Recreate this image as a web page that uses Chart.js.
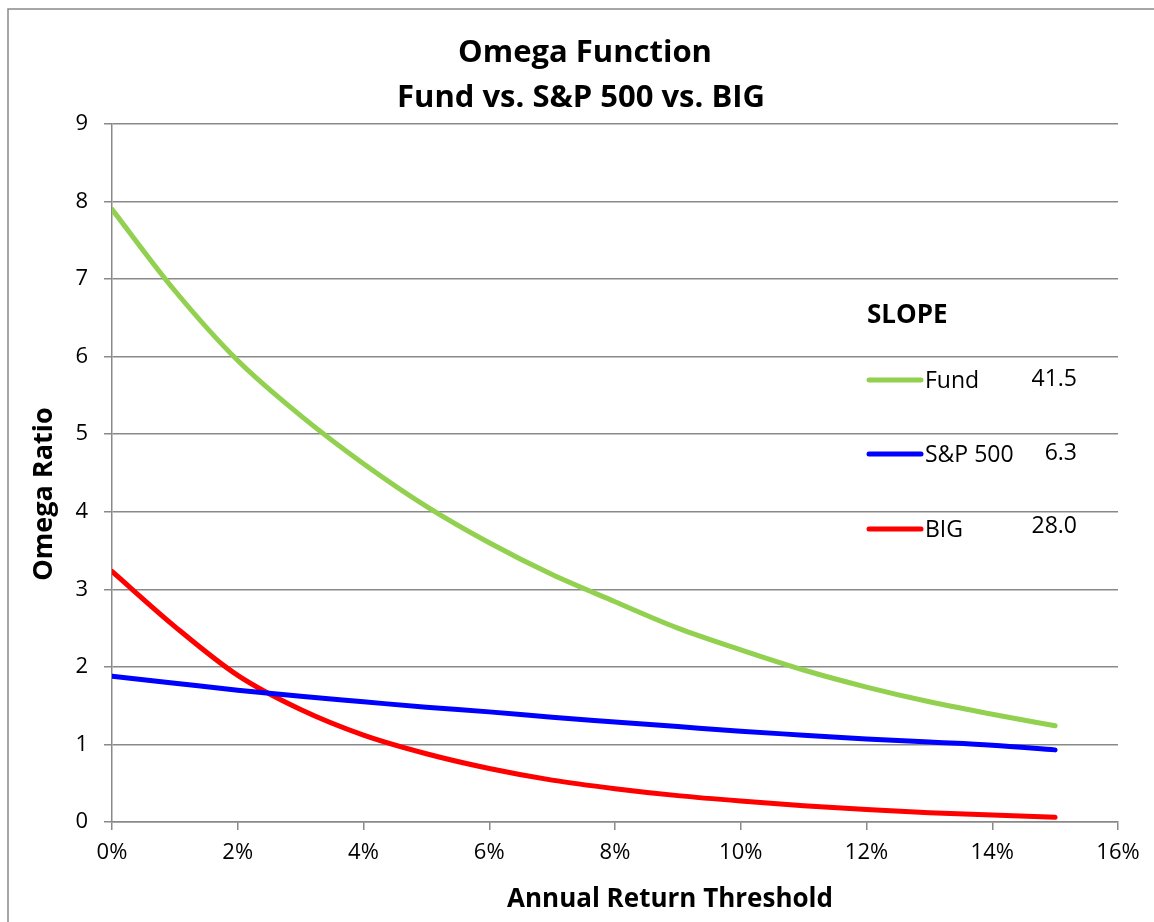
<!DOCTYPE html>
<html>
<head>
<meta charset="utf-8">
<title>Omega Function</title>
<script src="https://cdn.jsdelivr.net/npm/chart.js@4.4.1/dist/chart.umd.min.js"></script>
<style>
  html, body { margin: 0; padding: 0; background: #fff; }
  #wrap { width: 1154px; height: 922px; }
</style>
</head>
<body>
<div id="wrap"><canvas id="omega" width="1154" height="922"></canvas></div>
<script>
// annual return threshold, in percent
const thresholds = [0, 1, 2, 3, 4, 5, 6, 7, 8, 9, 10, 11, 12, 13, 14, 15];
const fundOmega = [7.90, 6.85, 5.95, 5.24, 4.62, 4.07, 3.60, 3.19, 2.84, 2.50, 2.22, 1.96, 1.74, 1.55, 1.39, 1.24];
const spOmega   = [1.88, 1.79, 1.70, 1.62, 1.55, 1.48, 1.42, 1.35, 1.29, 1.23, 1.17, 1.12, 1.07, 1.03, 0.99, 0.93];
const bigOmega  = [3.23, 2.52, 1.89, 1.45, 1.12, 0.88, 0.69, 0.54, 0.43, 0.34, 0.27, 0.21, 0.16, 0.12, 0.09, 0.06];

const seriesNames = ['Fund', 'S&P 500', 'BIG'];
const seriesColors = ['#92D050', '#0000FF', '#FF0000'];
const slopeValues = ['41.5', '6.3', '28.0'];

const xTickValues = [0, 2, 4, 6, 8, 10, 12, 14, 16];
const yTickValues = [0, 1, 2, 3, 4, 5, 6, 7, 8, 9];

const FONT = '"Open Sans", Lato, sans-serif';
const GRID = '#898989';

function toPoints(values) {
    return thresholds.map((t, i) => ({ x: t, y: values[i] }));
}

const datasets = [fundOmega, spOmega, bigOmega].map((vals, i) => ({
    label: seriesNames[i],
    data: toPoints(vals),
    borderColor: seriesColors[i],
    backgroundColor: seriesColors[i],
    borderWidth: 5,
    borderCapStyle: 'round',
    pointRadius: 0,
    cubicInterpolationMode: 'monotone',
    fill: false
}));

// frame, titles and the slope box drawn on top of the chart
const decorations = {
    id: 'decorations',
    beforeDraw(chart) {
        const ctx = chart.ctx;
        ctx.save();
        ctx.fillStyle = '#fff';
        ctx.fillRect(0, 0, chart.width, chart.height);
        ctx.strokeStyle = GRID;
        ctx.lineWidth = 1.5;
        ctx.beginPath();
        ctx.moveTo(8, chart.height + 2);
        ctx.lineTo(8, 9);
        ctx.lineTo(chart.width + 2, 9);
        ctx.stroke();
        ctx.restore();
    },
    afterDraw(chart) {
        const ctx = chart.ctx;
        ctx.save();
        ctx.fillStyle = '#000';
        ctx.textBaseline = 'middle';

        // chart title
        ctx.textAlign = 'center';
        ctx.font = 'bold 31px ' + FONT;
        ctx.fillText('Omega Function', 585, 53);
        ctx.fillText('Fund vs. S&P 500 vs. BIG', 581, 98);

        // axis titles
        ctx.font = 'bold 26px ' + FONT;
        ctx.fillText('Annual Return Threshold', 670, 900);
        ctx.save();
        ctx.translate(44, 494);
        ctx.rotate(-Math.PI / 2);
        ctx.font = 'bold 27px ' + FONT;
        ctx.fillText('Omega Ratio', 0, 0);
        ctx.restore();

        // slope legend
        ctx.textAlign = 'left';
        ctx.font = 'bold 26px ' + FONT;
        ctx.fillText('SLOPE', 867, 316);
        const rows = [380, 454, 529];
        ctx.font = '23px ' + FONT;
        seriesNames.forEach((name, i) => {
            const y = rows[i];
            ctx.strokeStyle = seriesColors[i];
            ctx.lineWidth = 5;
            ctx.lineCap = 'round';
            ctx.beginPath();
            ctx.moveTo(869, y);
            ctx.lineTo(921, y);
            ctx.stroke();
            ctx.textAlign = 'left';
            ctx.fillText(name, 925, y + 1);
            ctx.textAlign = 'right';
            ctx.fillText(slopeValues[i], 1077, i === 2 ? y - 3 : y - 1);
        });
        ctx.restore();
    }
};

const config = {
    type: 'line',
    data: { datasets: datasets },
    options: {
        responsive: false,
        animation: false,
        layout: { padding: { top: 124, right: 36, left: 0, bottom: 0 } },
        plugins: {
            legend: { display: false },
            title: { display: false },
            tooltip: { enabled: false }
        },
        scales: {
            x: {
                type: 'linear',
                min: 0,
                max: 16,
                afterBuildTicks: (scale) => {
                    scale.ticks = xTickValues.map(v => ({ value: v }));
                },
                afterFit: (scale) => { scale.height = 100; },
                border: { color: GRID, width: 1.5 },
                grid: {
                    drawOnChartArea: false,
                    drawTicks: true,
                    tickLength: 8,
                    color: GRID,
                    lineWidth: 1.5
                },
                ticks: {
                    color: '#000',
                    padding: 10,
                    maxRotation: 0,
                    font: { family: FONT, size: 22 },
                    callback: (v) => v + '%'
                }
            },
            y: {
                min: 0,
                max: 9,
                afterBuildTicks: (scale) => {
                    scale.ticks = yTickValues.map(v => ({ value: v }));
                },
                afterFit: (scale) => { scale.width = 112; },
                border: { color: GRID, width: 1.5 },
                grid: {
                    color: GRID,
                    lineWidth: 1.5,
                    tickLength: 8
                },
                ticks: {
                    color: '#000',
                    padding: 16,
                    font: { family: FONT, size: 22 }
                }
            }
        }
    },
    plugins: [decorations]
};

const ctx = document.getElementById('omega').getContext('2d');
new Chart(ctx, config);
</script>
</body>
</html>
